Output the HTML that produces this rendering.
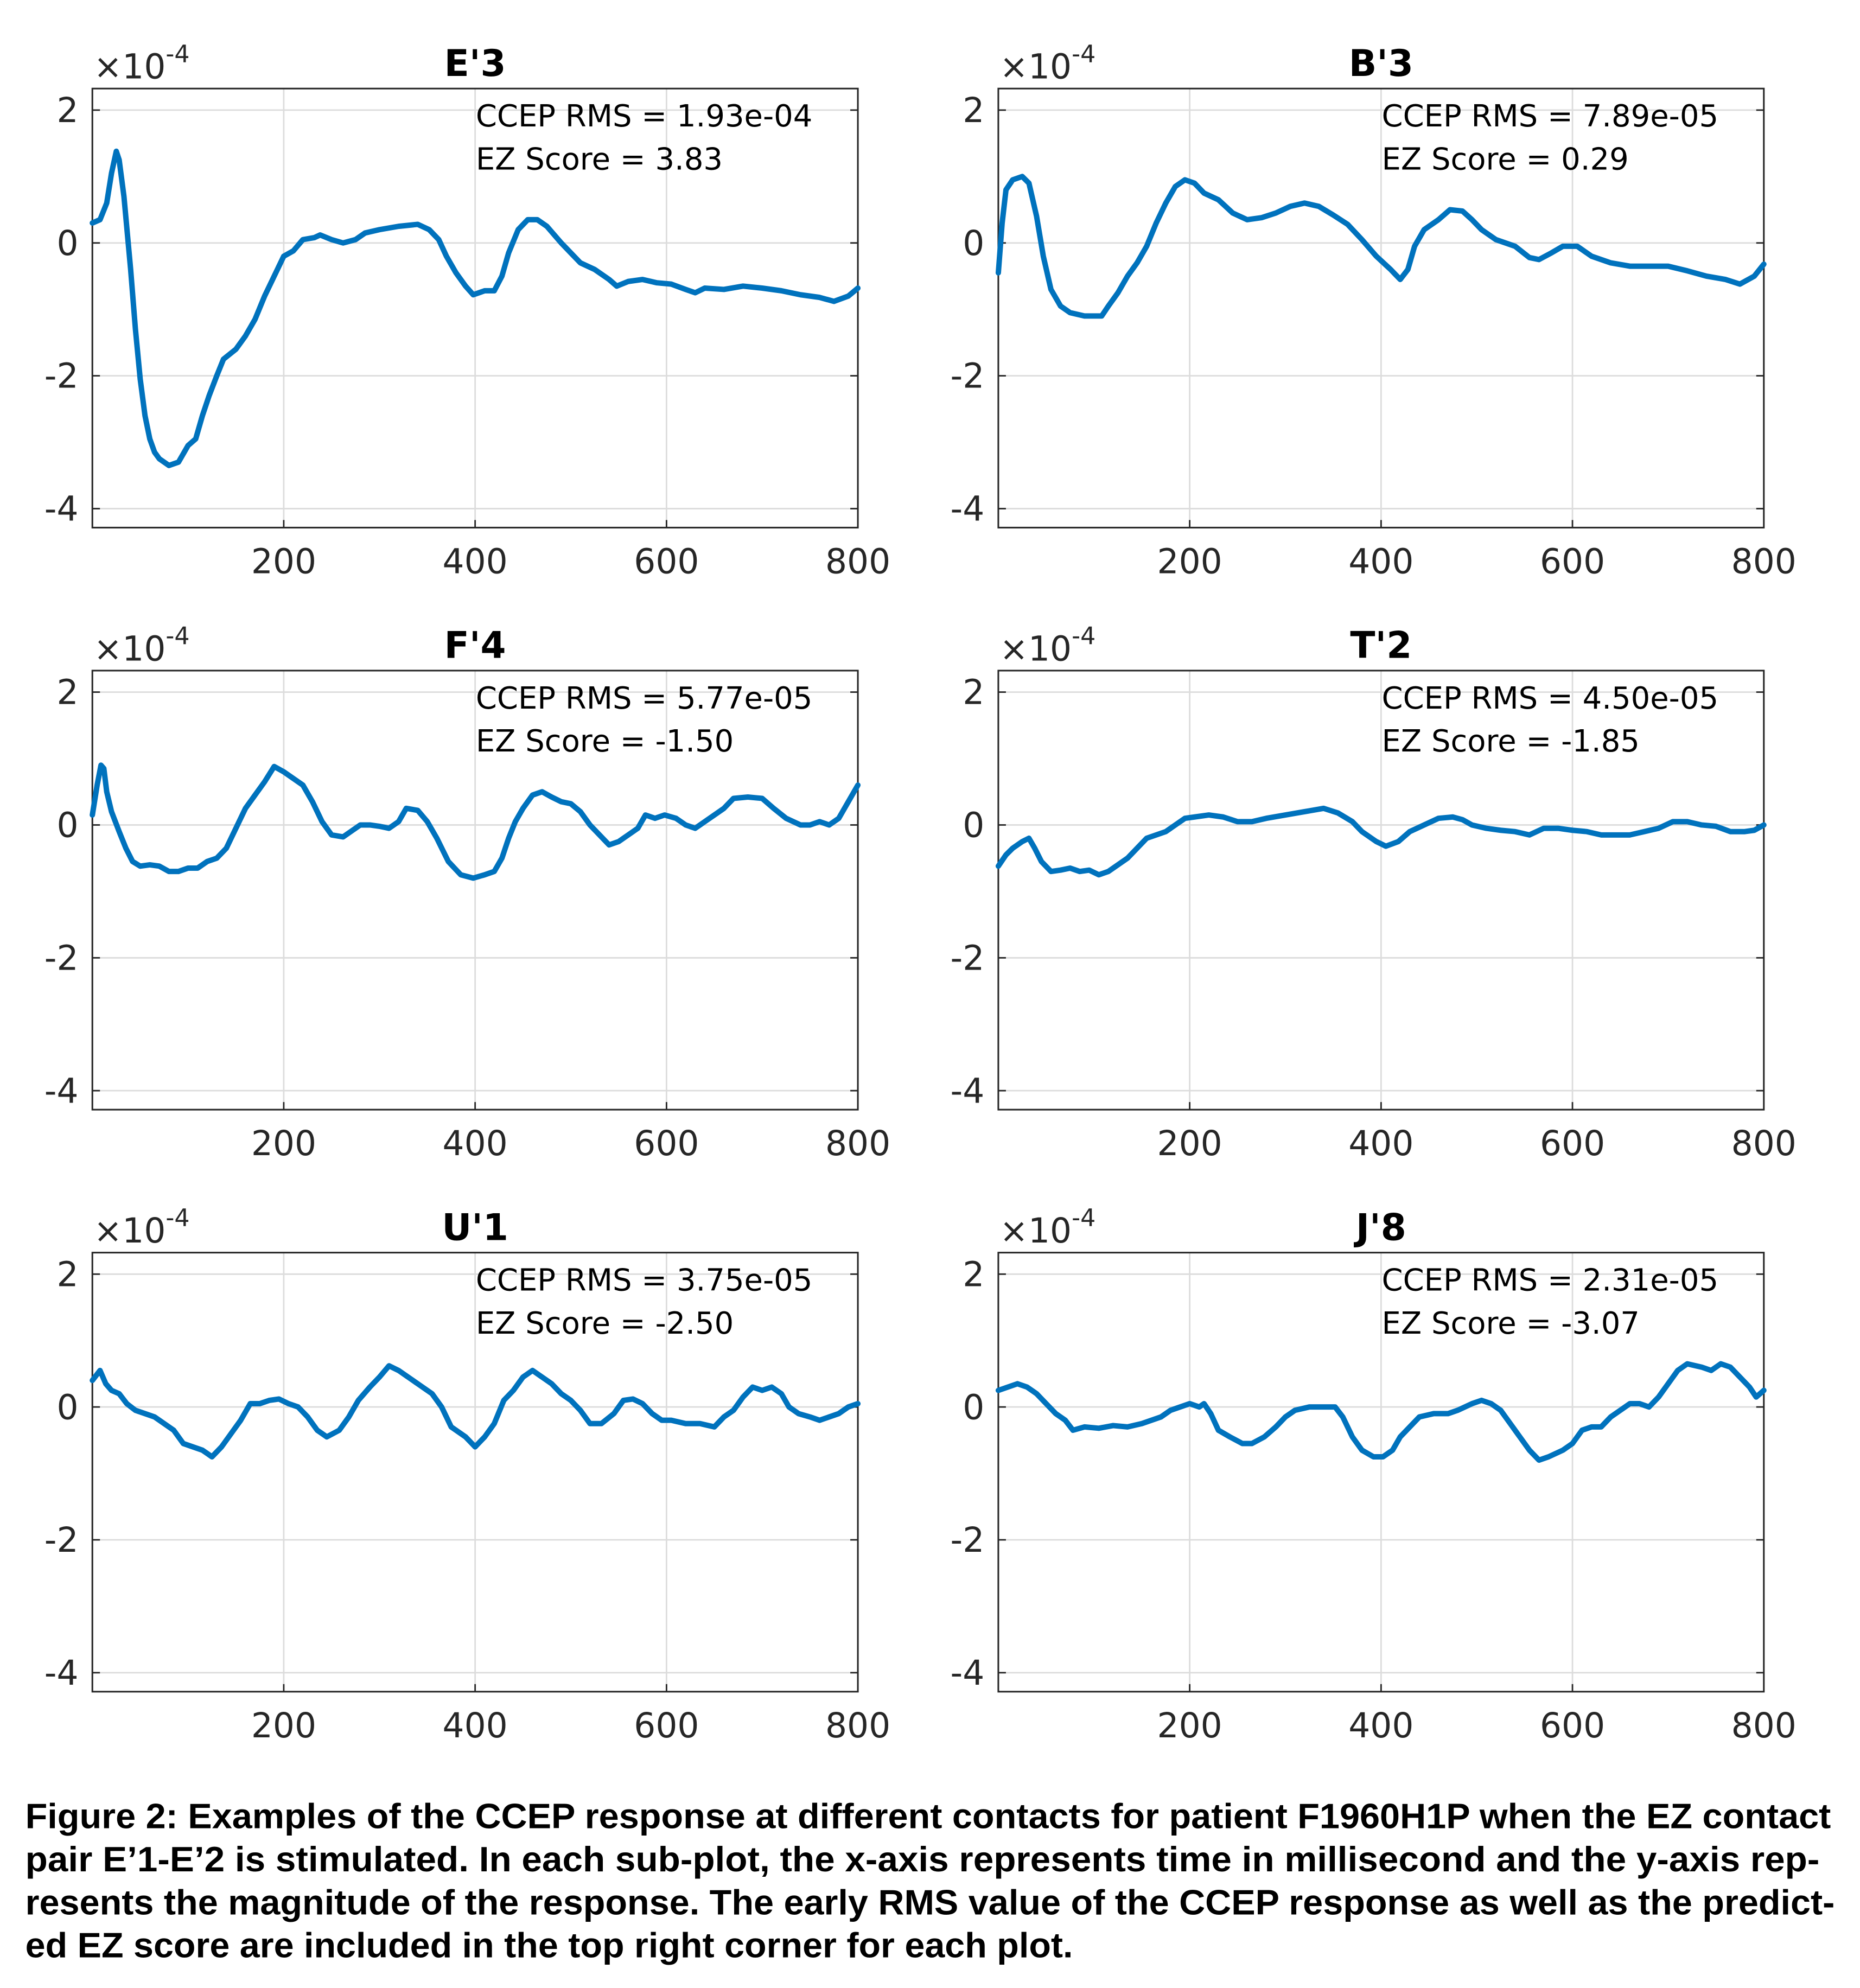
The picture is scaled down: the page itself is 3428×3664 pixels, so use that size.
<!DOCTYPE html>
<html><head><meta charset="utf-8"><style>
html,body{margin:0;padding:0;background:#fff;}
svg{display:block;}
.tk{font-family:"DejaVu Sans","Liberation Sans",sans-serif;font-size:27px;fill:#262626;}
.an{font-family:"DejaVu Sans","Liberation Sans",sans-serif;font-size:24px;fill:#000;}
.ti{font-family:"DejaVu Sans","Liberation Sans",sans-serif;font-size:29px;font-weight:bold;fill:#000;}
.cap{font-family:"Liberation Sans",sans-serif;font-size:28px;font-weight:bold;fill:#000;}
.grid line{stroke:#dcdcdc;stroke-width:1.2;}
.ln{fill:none;stroke:#0072BD;stroke-width:10;stroke-linejoin:round;stroke-linecap:round;vector-effect:non-scaling-stroke;}
</style></head><body>
<svg width="3428" height="3664" viewBox="0 0 1470 1571.2" xmlns="http://www.w3.org/2000/svg">
<rect width="1470" height="1572" fill="#fff"/>
<defs>
<g id="ax">
 <g class="grid">
  <line x1="151.25" y1="0" x2="151.25" y2="347"/>
  <line x1="302.5" y1="0" x2="302.5" y2="347"/>
  <line x1="453.75" y1="0" x2="453.75" y2="347"/>
  <line x1="0" y1="17" x2="605" y2="17"/>
  <line x1="0" y1="122" x2="605" y2="122"/>
  <line x1="0" y1="227" x2="605" y2="227"/>
  <line x1="0" y1="332" x2="605" y2="332"/>
 </g>
 <g stroke="#262626" stroke-width="1.2">
  <line x1="0" y1="17" x2="6" y2="17"/><line x1="0" y1="122" x2="6" y2="122"/><line x1="0" y1="227" x2="6" y2="227"/><line x1="0" y1="332" x2="6" y2="332"/>
  <line x1="605" y1="17" x2="599" y2="17"/><line x1="605" y1="122" x2="599" y2="122"/><line x1="605" y1="227" x2="599" y2="227"/><line x1="605" y1="332" x2="599" y2="332"/>
  <line x1="151.25" y1="347" x2="151.25" y2="341"/><line x1="302.5" y1="347" x2="302.5" y2="341"/><line x1="453.75" y1="347" x2="453.75" y2="341"/>
 </g>
 <rect x="0" y="0" width="605" height="347" fill="none" stroke="#262626" stroke-width="1.3"/>
 <g class="tk" text-anchor="end">
  <text x="-11" y="26.5">2</text><text x="-11" y="131.5">0</text><text x="-11" y="236.5">-2</text><text x="-11" y="341.5">-4</text>
 </g>
 <g class="tk" text-anchor="middle">
  <text x="151.25" y="383">200</text><text x="302.5" y="383">400</text><text x="453.75" y="383">600</text><text x="605" y="383">800</text>
 </g>
 <text class="tk" x="1" y="-8">×10<tspan font-size="19" dy="-13">-4</tspan></text>
</g>
</defs>

<use href="#ax" x="73" y="70"/>
<use href="#ax" x="789" y="70"/>
<use href="#ax" x="73" y="530"/>
<use href="#ax" x="789" y="530"/>
<use href="#ax" x="73" y="990"/>
<use href="#ax" x="789" y="990"/>

<text class="ti" x="375.5" y="60" text-anchor="middle">E'3</text>
<text class="ti" x="1091.5" y="60" text-anchor="middle">B'3</text>
<text class="ti" x="375.5" y="520" text-anchor="middle">F'4</text>
<text class="ti" x="1091.5" y="520" text-anchor="middle">T'2</text>
<text class="ti" x="375.5" y="980" text-anchor="middle">U'1</text>
<text class="ti" x="1091.5" y="980" text-anchor="middle">J'8</text>

<g class="an">
<text x="376" y="100">CCEP RMS = 1.93e-04</text><text x="376" y="134">EZ Score = 3.83</text>
<text x="1092" y="100">CCEP RMS = 7.89e-05</text><text x="1092" y="134">EZ Score = 0.29</text>
<text x="376" y="560">CCEP RMS = 5.77e-05</text><text x="376" y="594">EZ Score = -1.50</text>
<text x="1092" y="560">CCEP RMS = 4.50e-05</text><text x="1092" y="594">EZ Score = -1.85</text>
<text x="376" y="1020">CCEP RMS = 3.75e-05</text><text x="376" y="1054">EZ Score = -2.50</text>
<text x="1092" y="1020">CCEP RMS = 2.31e-05</text><text x="1092" y="1054">EZ Score = -3.07</text>
</g>

<g transform="translate(73,192) scale(0.75625,-52.5)">
<polyline class="ln" points="0,0.3 8,0.35 15,0.6 20,1.05 25,1.38 28,1.25 33,0.7 40,-0.4 45,-1.3 50,-2.05 55,-2.6 60,-2.95 65,-3.15 70,-3.25 80,-3.35 90,-3.3 100,-3.05 108,-2.95 115,-2.6 122,-2.3 130,-2 137,-1.75 150,-1.6 160,-1.4 170,-1.15 180,-0.8 190,-0.5 200,-0.2 210,-0.12 220,0.05 232,0.08 238,0.12 250,0.05 262,0 275,0.05 285,0.15 300,0.2 320,0.25 340,0.28 352,0.2 362,0.05 370,-0.2 380,-0.45 390,-0.65 398,-0.78 410,-0.72 420,-0.72 428,-0.5 435,-0.15 445,0.2 455,0.35 465,0.35 475,0.25 490,0 500,-0.15 510,-0.3 525,-0.4 540,-0.55 548,-0.65 560,-0.58 575,-0.55 590,-0.6 605,-0.62 620,-0.7 630,-0.75 640,-0.68 660,-0.7 680,-0.65 700,-0.68 720,-0.72 740,-0.78 760,-0.82 775,-0.88 790,-0.8 800,-0.68"/>
</g>
<g transform="translate(789,192) scale(0.75625,-52.5)">
<polyline class="ln" points="0,-0.45 4,0.3 8,0.8 15,0.95 25,1.0 32,0.9 40,0.4 47,-0.2 55,-0.7 65,-0.95 75,-1.05 90,-1.1 100,-1.1 108,-1.1 115,-0.95 125,-0.75 135,-0.5 145,-0.3 155,-0.05 165,0.3 175,0.6 185,0.85 195,0.95 205,0.9 215,0.75 230,0.65 245,0.45 260,0.35 275,0.38 290,0.45 305,0.55 320,0.6 335,0.55 350,0.42 365,0.28 380,0.05 395,-0.2 410,-0.4 420,-0.55 428,-0.4 435,-0.05 445,0.2 460,0.35 472,0.5 485,0.48 495,0.35 505,0.2 520,0.05 540,-0.05 555,-0.22 565,-0.25 578,-0.15 590,-0.05 605,-0.05 620,-0.2 640,-0.3 660,-0.35 680,-0.35 700,-0.35 720,-0.42 740,-0.5 760,-0.55 775,-0.62 790,-0.5 800,-0.32"/>
</g>
<g transform="translate(73,652) scale(0.75625,-52.5)">
<polyline class="ln" points="0,0.15 5,0.6 9,0.9 12,0.85 15,0.5 20,0.2 28,-0.1 35,-0.35 42,-0.55 50,-0.62 60,-0.6 70,-0.62 80,-0.7 90,-0.7 100,-0.65 110,-0.65 120,-0.55 130,-0.5 140,-0.35 150,-0.05 160,0.25 170,0.45 180,0.65 190,0.88 200,0.8 210,0.7 220,0.6 230,0.35 240,0.05 250,-0.15 262,-0.18 270,-0.1 280,0 290,0 300,-0.02 310,-0.05 320,0.05 328,0.25 340,0.22 350,0.05 360,-0.2 372,-0.55 385,-0.75 398,-0.8 410,-0.75 420,-0.7 428,-0.5 435,-0.2 442,0.05 450,0.25 460,0.45 470,0.5 480,0.42 490,0.35 500,0.32 510,0.2 520,0.0 530,-0.15 540,-0.3 550,-0.25 560,-0.15 570,-0.05 578,0.15 588,0.1 598,0.15 610,0.1 620,0.0 630,-0.05 640,0.05 650,0.15 660,0.25 670,0.4 685,0.42 700,0.4 712,0.25 725,0.1 740,0.0 750,0.0 760,0.05 770,0.0 780,0.1 790,0.35 800,0.6"/>
</g>
<g transform="translate(789,652) scale(0.75625,-52.5)">
<polyline class="ln" points="0,-0.62 8,-0.45 15,-0.35 25,-0.25 32,-0.2 38,-0.35 45,-0.55 55,-0.7 65,-0.68 75,-0.65 85,-0.7 95,-0.68 105,-0.75 115,-0.7 125,-0.6 135,-0.5 145,-0.35 155,-0.2 165,-0.15 175,-0.1 185,0.0 195,0.1 205,0.12 220,0.15 235,0.12 250,0.05 265,0.05 280,0.1 300,0.15 320,0.2 340,0.25 355,0.18 370,0.05 380,-0.1 395,-0.25 405,-0.32 418,-0.25 430,-0.1 445,0.0 460,0.1 475,0.12 485,0.08 495,0.0 510,-0.05 525,-0.08 540,-0.1 555,-0.15 570,-0.05 585,-0.05 600,-0.08 615,-0.1 630,-0.15 645,-0.15 660,-0.15 675,-0.1 690,-0.05 705,0.05 720,0.05 735,0.0 750,-0.02 765,-0.1 780,-0.1 790,-0.08 800,0.0"/>
</g>
<g transform="translate(73,1112) scale(0.75625,-52.5)">
<polyline class="ln" points="0,0.4 8,0.55 14,0.35 20,0.25 28,0.2 36,0.05 45,-0.05 55,-0.1 65,-0.15 75,-0.25 85,-0.35 95,-0.55 105,-0.6 115,-0.65 125,-0.75 135,-0.6 145,-0.4 155,-0.2 165,0.05 175,0.05 185,0.1 195,0.12 205,0.05 215,0.0 225,-0.15 235,-0.35 245,-0.45 258,-0.35 268,-0.15 278,0.1 290,0.3 300,0.45 310,0.62 320,0.55 330,0.45 340,0.35 355,0.2 365,0.0 375,-0.3 390,-0.45 400,-0.6 410,-0.45 420,-0.25 430,0.1 440,0.25 450,0.45 460,0.55 470,0.45 480,0.35 490,0.2 500,0.1 510,-0.05 520,-0.25 532,-0.25 545,-0.1 555,0.1 565,0.12 575,0.05 585,-0.1 595,-0.2 605,-0.2 620,-0.25 635,-0.25 650,-0.3 660,-0.15 670,-0.05 680,0.15 690,0.3 700,0.25 710,0.3 720,0.2 728,0.0 738,-0.1 750,-0.15 760,-0.2 770,-0.15 780,-0.1 790,0.0 800,0.05"/>
</g>
<g transform="translate(789,1112) scale(0.75625,-52.5)">
<polyline class="ln" points="0,0.25 10,0.3 20,0.35 30,0.3 40,0.2 50,0.05 60,-0.1 70,-0.2 78,-0.35 90,-0.3 105,-0.32 120,-0.28 135,-0.3 150,-0.25 170,-0.15 180,-0.05 190,0.0 200,0.05 210,0.0 215,0.05 222,-0.1 230,-0.35 242,-0.45 255,-0.55 265,-0.55 278,-0.45 290,-0.3 300,-0.15 310,-0.05 325,0.0 340,0.0 352,0.0 360,-0.15 370,-0.45 380,-0.65 392,-0.75 402,-0.75 412,-0.65 420,-0.45 430,-0.3 440,-0.15 455,-0.1 470,-0.1 480,-0.05 495,0.05 505,0.1 515,0.05 525,-0.05 535,-0.25 545,-0.45 555,-0.65 565,-0.8 575,-0.75 590,-0.65 600,-0.55 610,-0.35 620,-0.3 630,-0.3 640,-0.15 650,-0.05 660,0.05 670,0.05 680,0.0 690,0.15 700,0.35 710,0.55 720,0.65 735,0.6 745,0.55 755,0.65 765,0.6 775,0.45 785,0.3 792,0.15 800,0.25"/>
</g>

<text class="cap" x="20" y="1445" textLength="1427" lengthAdjust="spacingAndGlyphs">Figure 2: Examples of the CCEP response at different contacts for patient F1960H1P when the EZ contact</text>
<text class="cap" x="20" y="1479" textLength="1418" lengthAdjust="spacingAndGlyphs">pair E’1-E’2 is stimulated. In each sub-plot, the x-axis represents time in millisecond and the y-axis rep-</text>
<text class="cap" x="20" y="1513" textLength="1430" lengthAdjust="spacingAndGlyphs">resents the magnitude of the response. The early RMS value of the CCEP response as well as the predict-</text>
<text class="cap" x="20" y="1547" textLength="828" lengthAdjust="spacingAndGlyphs">ed EZ score are included in the top right corner for each plot.</text>
</svg>
</body></html>
